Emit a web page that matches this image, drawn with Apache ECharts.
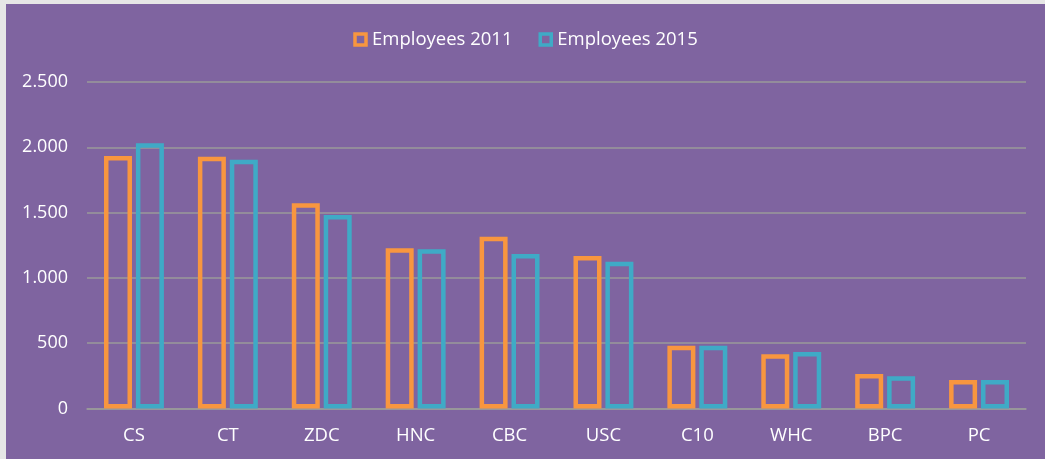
<!DOCTYPE html>
<html>
<head>
<meta charset="utf-8">
<script src="https://cdn.jsdelivr.net/npm/echarts@6/dist/echarts.min.js"></script>
<style>
html,body{margin:0;padding:0;background:#e6e6e6;width:1045px;height:459px;overflow:hidden;}
#c{position:absolute;left:6px;top:4px;width:1039px;height:455px;}
</style>
</head>
<body>
<div id="c"></div>
<script>
const categories = ['CS','CT','ZDC','HNC','CBC','USC','C10','WHC','BPC','PC'];
const employees2011 = [1933, 1928, 1571, 1227, 1315, 1168, 481, 415, 264, 218];
const employees2015 = [2031, 1905, 1482, 1219, 1183, 1124, 481, 433, 247, 218];
const seriesNames = ['Employees 2011', 'Employees 2015'];

const chart = echarts.init(document.getElementById('c'));
const font = 'Open Sans';
chart.setOption({
  backgroundColor: '#7F64A0',
  animation: false,
  legend: {
    top: 21,
    left: 'center',
    itemWidth: 11,
    itemHeight: 11,
    itemGap: 26,
    icon: 'rect',
    itemStyle: {borderWidth: 3.5},
    textStyle: {color: '#ffffff', fontSize: 18.5, fontFamily: font, padding: [0,0,0,1]}
  },
  grid: {left: 81, right: 19, top: 78, bottom: 50.5},
  xAxis: {
    type: 'category',
    data: categories,
    axisLine: {show: true, lineStyle: {color: '#9a9a9a', width: 1.5}},
    axisTick: {show: false},
    axisLabel: {color: '#ffffff', fontSize: 18.5, fontFamily: font, margin: 18}
  },
  yAxis: {
    type: 'value',
    min: 0, max: 2500, interval: 500,
    axisLine: {show: false},
    axisTick: {show: false},
    splitLine: {lineStyle: {color: '#9a9a9a', width: 1.5}},
    axisLabel: {
      color: '#ffffff', fontSize: 18, fontFamily: font, margin: 19,
      formatter: v => v.toLocaleString('en-US').replace(/,/g, '.')
    }
  },
  series: [
    {
      name: seriesNames[0], type: 'bar', data: employees2011,
      barWidth: 28, barGap: '14%',
      itemStyle: {color: 'rgba(0,0,0,0)', borderColor: '#F8963F', borderWidth: 4.5}
    },
    {
      name: seriesNames[1], type: 'bar', data: employees2015,
      barWidth: 28, barGap: '14%',
      itemStyle: {color: 'rgba(0,0,0,0)', borderColor: '#3FAAC6', borderWidth: 4.5}
    }
  ]
});
</script>
</body>
</html>
